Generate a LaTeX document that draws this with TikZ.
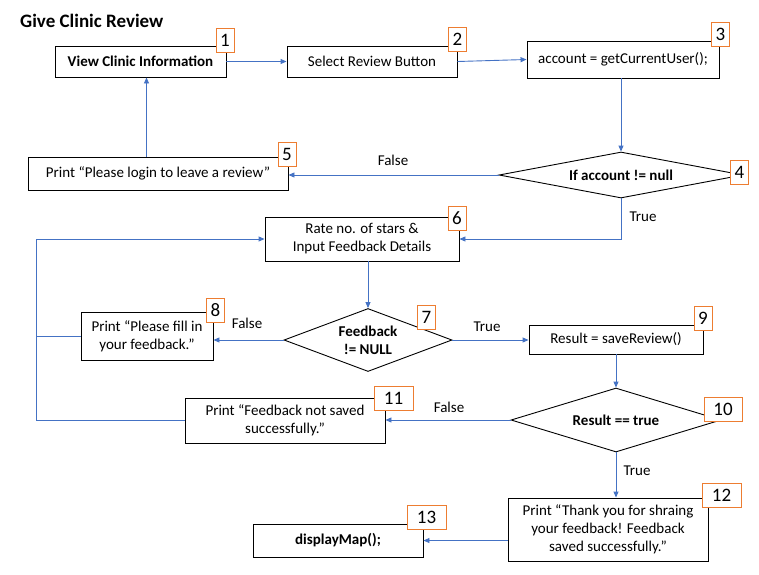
\documentclass[tikz,border=0pt]{standalone}
\usepackage{fontspec}
\setmainfont{Carlito}
\usetikzlibrary{arrows.meta}
\usetikzlibrary{shapes.geometric}
\definecolor{ColFlow}{RGB}{68,114,196}
\definecolor{ColTag}{RGB}{237,125,49}
\tikzstyle{StepBox}=[draw=black,line width=0.9pt,inner sep=2pt,align=center,
font=\fontsize{15}{18}\selectfont]
\tikzstyle{TestBox}=[diamond,draw=black,line width=0.9pt,inner sep=0pt,align=center,
font=\bfseries\fontsize{15}{18}\selectfont]
\tikzstyle{NumTag}=[draw=ColTag,line width=0.9pt,fill=white,inner sep=0pt,minimum width=18pt,
minimum height=24pt,font=\fontsize{19}{19}\selectfont]
\tikzstyle{EdgeFlow}=[ColFlow,line width=0.9pt,-{Triangle[length=6pt,width=5pt]}]
\tikzstyle{EdgeLine}=[ColFlow,line width=0.9pt]
\tikzstyle{EdgeText}=[font=\fontsize{15}{18}\selectfont]

\begin{document}
\begin{tikzpicture}[x=1pt,y=-1pt]
        \useasboundingbox (0,0) rectangle (759,574);
        \node[anchor=west,inner sep=0pt,font=\bfseries\fontsize{19}{21}\selectfont](title)at(20,21){Give Clinic Review};
        % steps
        \node[StepBox,font=\bfseries\fontsize{15}{18}\selectfont,minimum width=171,minimum height=31](b1)at(140.5,61.5){View Clinic Information};
        \node[StepBox,minimum width=170,minimum height=31](b2)at(372,61.5){Select Review Button};
        \node[StepBox,minimum width=192,minimum height=37](b3)at(623,59.5){account = getCurrentUser();};
        \node[TestBox,aspect=5.3,minimum width=244,minimum height=46](d4)at(621,175){If account != null};
        \node[StepBox,minimum width=260,minimum height=33](b5)at(158,173.5){Print “Please login to leave a review”};
        \node[StepBox,minimum width=194,minimum height=44](b6)at(362,239){Rate no. of stars \&\\Input Feedback Details};
        \node[TestBox,aspect=2.67,minimum width=168,minimum height=63](d7)at(368,340){Feedback\\!= NULL};
        \node[StepBox,minimum width=132,minimum height=48](b8)at(147,336){Print “Please fill in\\your feedback.”};
        \node[StepBox,minimum width=174,minimum height=29](b9)at(616,339.5){Result = saveReview()};
        \node[TestBox,aspect=3.3,minimum width=210,minimum height=64](d10)at(616,420){Result == true};
        \node[StepBox,minimum width=200,minimum height=45](b11)at(285,420.5){Print “Feedback not saved\\successfully.”};
        \node[StepBox,minimum width=200,minimum height=63](b12)at(608,529.5){Print “Thank you for shraing\\your feedback! Feedback\\saved successfully.”};
        \node[StepBox,font=\bfseries\fontsize{15}{18}\selectfont,minimum width=170,minimum height=33](b13)at(338,540.5){displayMap();};
        % number tags
        \node[NumTag](t1)at(225,40){1};
        \node[NumTag](t2)at(457.5,39){2};
        \node[NumTag](t3)at(720.5,34){3};
        \node[NumTag](t4)at(739.5,172.5){4};
        \node[NumTag](t5)at(287,154){5};
        \node[NumTag](t6)at(457,218){6};
        \node[NumTag](t7)at(426.5,317){7};
        \node[NumTag](t8)at(215.5,310){8};
        \node[NumTag](t9)at(703,318.5){9};
        \node[NumTag,minimum width=38](t10)at(723,409){10};
        \node[NumTag,minimum width=39](t11)at(393.5,398.5){11};
        \node[NumTag,minimum width=39](t12)at(721.5,495){12};
        \node[NumTag,minimum width=39](t13)at(426.5,517.5){13};
        % flow
        \coordinate(LoopTop)at(36,239);
        \draw[EdgeFlow](b1.east)--(b2.west);
        \draw[EdgeFlow](b2.east)--(b3.west);
        \draw[EdgeFlow](d4.north|-b3.south)--(d4.north);
        \draw[EdgeFlow](d4.west)--(d4.west-|b5.east);
        \draw[EdgeFlow]([xshift=6]b1.south|-b5.north)--([xshift=6]b1.south);
        \draw[EdgeFlow](d4.south)|-(b6.east);
        \draw[EdgeFlow](d7.north|-b6.south)--(d7.north);
        \draw[EdgeFlow](d7.west)--(d7.west-|b8.east);
        \draw[EdgeFlow](d7.east)--(d7.east-|b9.west);
        \draw[EdgeFlow](d10.north|-b9.south)--(d10.north);
        \draw[EdgeFlow](d10.west)--(d10.west-|b11.east);
        \draw[EdgeFlow](d10.south)--(d10.south|-b12.north);
        \draw[EdgeFlow](b12.west|-b13.east)--(b13.east);
        \draw[EdgeFlow](b11.west)-|(LoopTop)--(b6.west);
        \draw[EdgeLine](b8.west)--(b8.west-|LoopTop);
        % branch labels
        \node[EdgeText](f4)at(393,160){False};
        \node[EdgeText](r4)at(643,217){True};
        \node[EdgeText](f7)at(247,323){False};
        \node[EdgeText](r7)at(487,327){True};
        \node[EdgeText](f10)at(449,407){False};
        \node[EdgeText](r10)at(637,471){True};
    \end{tikzpicture}
\end{document}
